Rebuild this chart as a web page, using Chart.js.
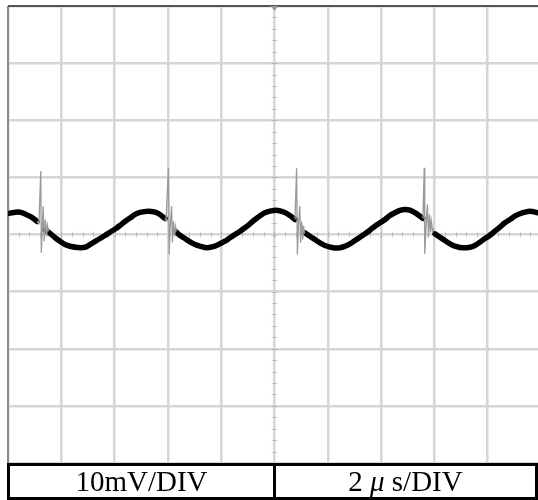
<!DOCTYPE html>
<html>
<head>
<meta charset="utf-8">
<script src="https://cdn.jsdelivr.net/npm/chart.js@4/dist/chart.umd.min.js"></script>
<style>
  html, body { margin: 0; padding: 0; background: #fff; }
  #wrap { position: relative; width: 538px; height: 500px; overflow: hidden; }
  #c { position: absolute; left: 0; top: 0; }
  #tbl {
    position: absolute; left: 7px; top: 463px; width: 531px; height: 37px;
    box-sizing: border-box; border: 3px solid #000; display: flex;
    font-family: "Liberation Serif", "Times New Roman", serif; font-size: 29px; color: #000;
  }
  #tbl div { text-align: center; line-height: 30px; white-space: nowrap; }
  #left { flex: 0 0 266px; border-right: 3px solid #000; box-sizing: border-box; }
  #right { flex: 1 1 auto; }
  #right i { font-style: italic; }
</style>
</head>
<body>
<div id="wrap">
  <canvas id="c" width="538" height="500"></canvas>
  <div id="tbl"><div id="left">10mV/DIV</div><div id="right">2 <i>μ</i> s/DIV</div></div>
</div>
<script>
// Scale labels (per division)
const voltsPerDiv = "10mV/DIV";
const timePerDiv = "2 μ s/DIV";

// Main trace (time in µs, voltage in mV); null = trace interrupted at a switching spike
const timeUs = [0, 0.225, 0.45, 0.64, 0.83, 0.98, 1.09, 1.24, 1.39, 1.58, 1.76, 1.95, 2.14, 2.33, 2.63, 2.89, 3.08, 3.26, 3.45, 3.64, 3.83, 4.05, 4.20, 4.39, 4.58, 4.77, 4.95, 5.25, 5.52, 5.70, 5.89, 6.05, 6.27, 6.45, 6.64, 6.83, 7.02, 7.20, 7.47, 7.77, 7.95, 8.14, 8.33, 8.52, 8.71, 8.89, 9.08, 9.27, 9.53, 9.64, 9.83, 10.06, 10.32, 10.58, 10.77, 10.86, 11.14, 11.33, 11.52, 11.71, 11.89, 12.20, 12.46, 12.65, 12.83, 13.02, 13.21, 13.40, 13.58, 13.77, 13.96, 14.15, 14.33, 14.52, 14.71, 14.90, 15.08, 15.27, 15.46, 15.57, 15.64, 16.02, 16.21, 16.40, 16.59, 16.77, 17.04, 17.34, 17.52, 17.71, 17.90, 18.09, 18.27, 18.46, 18.65, 18.84, 19.02, 19.21, 19.40, 19.59, 19.89];
const traceMv = [3.68, 3.86, 3.91, 3.60, 3.16, 2.72, 2.28, null, 0.88, 0.18, -0.53, -1.18, -1.75, -2.05, -2.28, -2.23, -1.75, -1.23, -0.70, -0.18, 0.40, 1.05, 1.58, 2.28, 2.89, 3.51, 3.86, 4.09, 3.91, 3.51, 2.81, null, 0.58, -0.12, -0.70, -1.28, -1.75, -2.05, -2.33, -2.05, -1.63, -1.18, -0.58, 0, 0.58, 1.18, 1.88, 2.63, 3.51, 3.81, 4.09, 4.26, 3.98, 3.33, 2.63, null, 0.30, -0.30, -0.88, -1.46, -1.93, -2.33, -2.33, -2.05, -1.63, -1.05, -0.47, 0.12, 0.75, 1.46, 2.05, 2.63, 3.33, 3.81, 4.21, 4.39, 4.26, 3.81, 3.21, 2.81, null, 0.12, -0.47, -1.05, -1.63, -2.05, -2.33, -2.23, -1.93, -1.35, -0.70, -0.12, 0.58, 1.28, 2.05, 2.63, 3.21, 3.63, 3.91, 4.09, 3.81];

// Switching spikes with ringing (thin grey), separated by null
const spikeTimeUs = [1.09, 1.16, 1.23, 1.25, 1.29, 1.32, 1.36, 1.40, 1.45, 1.48, 1.52, 3.0,
  5.89, 5.93, 6.02, 6.05, 6.09, 6.14, 6.17, 6.21, 6.25, 6.29, 6.32, 8.0,
  10.77, 10.83, 10.86, 10.90, 10.95, 10.98, 11.02, 11.06, 11.09, 11.13, 13.0,
  15.57, 15.62, 15.64, 15.69, 15.74, 15.78, 15.82, 15.86, 15.89, 15.94, 15.98];
const spikeMv = [2.28, 1.93, 11.11, -3.21, 1.58, 4.96, -1.18, 2.63, -0.30, 1.58, 0.53, null,
  2.81, 2.46, 11.70, -3.51, 1.58, 4.96, -1.40, 2.33, -0.30, 1.40, 0.53, null,
  2.63, 11.58, -3.51, 1.58, 4.96, -1.46, 2.28, -0.88, 1.58, 0.18, null,
  2.81, 11.70, -3.39, 1.58, 5.26, -0.53, 3.51, 0.35, 2.28, 0.53, 1.05];

// Axis ranges
const timeRange = [0, 19.89];   // µs visible
const voltRange = [-40, 40];    // mV
const timeStep = 2;             // µs per division
const voltStep = 10;            // mV per division

const tracePts = timeUs.map((t, i) => ({ x: t, y: traceMv[i] }));
const spikePts = spikeTimeUs.map((t, i) => ({ x: t, y: spikeMv[i] }));

const scopeDecor = {
  id: 'scopeDecor',
  beforeDatasetsDraw(chart) {
    const { ctx, chartArea: a, scales: { x, y } } = chart;
    ctx.save();
    // minor ticks on centre lines
    ctx.strokeStyle = 'rgba(0,0,0,0.16)';
    ctx.lineWidth = 1;
    const yc = y.getPixelForValue(0);
    for (let t = 0; t <= timeRange[1]; t += timeStep / 5) {
      const px = Math.round(x.getPixelForValue(t)) + 0.5;
      ctx.beginPath(); ctx.moveTo(px, yc - 3); ctx.lineTo(px, yc + 3); ctx.stroke();
    }
    const xc = x.getPixelForValue(10);
    for (let v = voltRange[0]; v <= voltRange[1]; v += voltStep / 5) {
      const py = Math.round(y.getPixelForValue(v)) + 0.5;
      ctx.beginPath(); ctx.moveTo(xc - 3, py); ctx.lineTo(xc + 3, py); ctx.stroke();
    }
    // left and top border
    ctx.strokeStyle = '#8a8a8a'; ctx.lineWidth = 2;
    ctx.beginPath(); ctx.moveTo(a.left, a.top); ctx.lineTo(a.left, a.bottom); ctx.stroke();
    ctx.strokeStyle = '#555'; ctx.lineWidth = 2;
    ctx.beginPath(); ctx.moveTo(a.left, a.top); ctx.lineTo(a.right, a.top); ctx.stroke();
    // trigger marker
    ctx.fillStyle = '#999';
    ctx.beginPath(); ctx.moveTo(xc - 4, a.top); ctx.lineTo(xc + 4, a.top); ctx.lineTo(xc, a.top + 5); ctx.closePath(); ctx.fill();
    ctx.restore();
  }
};

new Chart(document.getElementById('c'), {
  type: 'line',
  data: {
    datasets: [
      { data: spikePts, borderColor: '#9a9a9a', borderWidth: 1.3, pointRadius: 0, tension: 0, spanGaps: false, order: 0 },
      { data: tracePts, borderColor: '#000', borderWidth: 5.5, pointRadius: 0, tension: 0.35, spanGaps: false, order: 1, borderCapStyle: 'round', borderJoinStyle: 'round' }
    ]
  },
  options: {
    responsive: false,
    animation: false,
    events: [],
    layout: { padding: { left: 8, right: 0, top: 6, bottom: 37 } },
    plugins: { legend: { display: false }, tooltip: { enabled: false } },
    scales: {
      x: {
        type: 'linear', min: timeRange[0], max: timeRange[1],
        ticks: { display: false, stepSize: timeStep, includeBounds: false },
        grid: { color: '#d6d6d6', lineWidth: 2.5, drawTicks: false },
        border: { display: false }
      },
      y: {
        type: 'linear', min: voltRange[0], max: voltRange[1],
        ticks: { display: false, stepSize: voltStep },
        grid: { color: '#d6d6d6', lineWidth: 2.5, drawTicks: false },
        border: { display: false }
      }
    }
  },
  plugins: [scopeDecor]
});
</script>
</body>
</html>
